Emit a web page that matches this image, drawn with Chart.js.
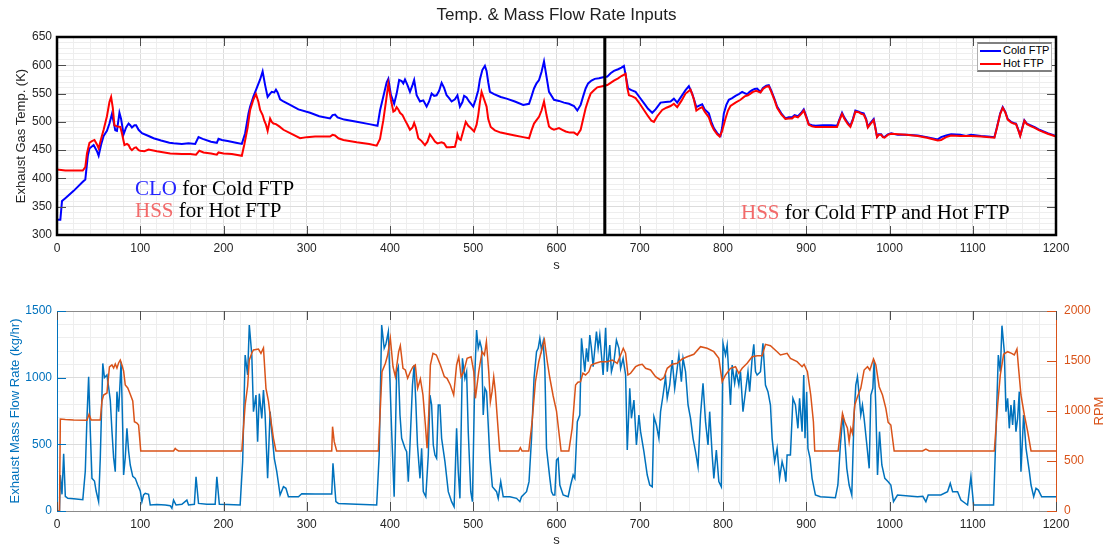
<!DOCTYPE html>
<html><head><meta charset="utf-8">
<script src="https://cdn.jsdelivr.net/npm/chart.js@4.4.0/dist/chart.umd.min.js"></script>
<style>
html,body{margin:0;padding:0;background:#fff;}
body{width:1107px;height:546px;position:relative;overflow:hidden;font-family:"Liberation Sans",Arial,sans-serif;}
canvas{position:absolute;left:0;}
#c1{top:0;}
#c2{top:285px;}
.t{position:absolute;white-space:nowrap;}
#title{left:0;width:1113px;top:5px;line-height:20px;font-size:17px;text-align:center;color:#222;}
.ann{font-family:"Liberation Serif","Times New Roman",serif;font-size:21px;line-height:21px;color:#000;}
.clo{color:#2424ff;}
.hss{color:#f26a6a;}
#legbox{position:absolute;left:977px;top:42px;width:73px;height:26px;border:1px solid #b0b0b0;border-top:2px solid #808080;border-bottom:2px solid #808080;background:#fff;}
.legline{position:absolute;left:980px;width:21px;height:2px;}
.legtxt{font-size:11px;line-height:13px;color:#000;left:1003px;}
#rpm{left:1079px;top:403px;width:40px;line-height:16px;font-size:13px;text-align:center;color:#D95319;transform:rotate(-90deg);}
</style></head><body>
<canvas id="c1" width="1107" height="280"></canvas>
<canvas id="c2" width="1107" height="265"></canvas>
<div id="title" class="t">Temp. &amp; Mass Flow Rate Inputs</div>
<div class="t ann" style="left:135px;top:178px;"><span class="clo">CLO</span> for Cold FTP</div>
<div class="t ann" style="left:135px;top:200px;"><span class="hss">HSS</span> for Hot FTP</div>
<div class="t ann" style="left:741px;top:202px;"><span class="hss">HSS</span> for Cold FTP and Hot FTP</div>
<div id="legbox"></div>
<div class="legline" style="top:50px;background:#0000ff;"></div>
<div class="t legtxt" style="top:44px;">Cold FTP</div>
<div class="legline" style="top:63px;background:#ff0000;"></div>
<div class="t legtxt" style="top:57px;">Hot FTP</div>
<div id="rpm" class="t">RPM</div>
<script>
// ---------- DATA ----------
const seriesNames = ['Cold FTP', 'Hot FTP', 'Exhaust Mass Flow Rate (kg/hr)', 'RPM'];
const separatorTime = 658; // s, switch point between strategies

const coldTime = [0,4,6,10,20,31,34,37,39,44,48,50,53,56,60,63,66,68,70,72,75,77,80,83,86,88,90,93,95,98,102,110,116,125,135,140,150,158,166,170,175,185,192,194,198,205,215,222,226,230,232,236,240,244,247,250,253,256,258,261,263,265,268,272,280,290,304,315,328,331,334,337,345,360,375,385,388,392,396,398,401,405,408,411,414,416,418,421,424,427,429,432,436,440,444,447,450,453,456,459,462,465,468,471,474,478,481,484,487,489,492,495,500,503,506,508,511,514,516,518,520,525,533,540,550,560,567,570,573,576,579,582,585,588,591,597,603,609,615,621,625,629,632,635,638,642,646,651,656,661,665,669,674,678,681,684,686,690,695,700,705,710,715,719,725,731,737,741,745,750,755,759,763,768,772,775,778,783,786,789,793,797,799,801,804,807,811,815,819,823,827,829,832,835,838,841,845,848,852,855,858,862,865,870,875,879,883,886,890,894,897,900,903,907,911,920,930,937,940,943,946,950,953,956,959,963,966,969,972,974,977,981,983,985,987,990,992,994,998,1002,1010,1020,1034,1045,1058,1062,1068,1074,1085,1092,1098,1110,1118,1126,1129,1133,1136,1139,1142,1146,1149,1152,1155,1157,1160,1162,1165,1169,1175,1180,1190,1200];
const coldTemp = [327,327,360,365,378,394,398,440,453,459,448,440,460,475,484,497,514,500,485,484,516,505,478,490,497,494,490,494,494,486,480,475,471,467,463,462,461,462,461,473,470,465,463,470,468,466,463,461,480,515,527,545,560,575,589,565,544,550,553,552,557,552,540,536,530,522,516,510,506,512,513,508,504,500,496,493,520,545,570,576,548,532,550,574,572,568,575,565,553,565,574,547,536,538,527,536,550,546,547,555,569,560,547,542,536,540,547,527,535,546,543,536,527,540,556,575,592,599,590,570,553,549,544,541,536,530,532,545,559,568,574,588,607,580,553,539,537,534,532,528,520,530,545,559,568,573,576,577,579,580,586,590,593,596,599,575,559,556,553,543,533,523,516,522,534,535,536,541,534,545,556,563,550,526,529,531,522,515,500,489,480,475,490,515,530,539,542,546,549,553,550,549,553,556,558,559,553,560,564,565,555,540,527,515,506,508,508,512,510,516,522,510,496,494,493,494,494,493,505,516,507,498,493,505,520,518,516,515,505,491,498,505,490,474,478,478,474,473,478,480,477,477,476,473,469,473,476,478,477,475,477,475,474,473,490,515,526,518,505,500,498,497,485,476,492,503,497,494,490,486,480,475];

const hotTime = [0,5,10,20,31,34,36,39,42,45,48,50,53,56,60,63,65,67,69,72,76,78,81,84,86,88,90,93,95,98,100,105,110,120,136,150,160,167,171,176,185,192,194,200,210,222,225,229,232,236,239,242,244,247,249,251,253,256,258,260,263,267,272,280,292,300,310,328,331,334,338,344,360,375,384,388,392,396,398,401,404,406,408,410,412,415,418,421,424,427,429,431,434,438,442,445,448,451,454,457,462,465,468,472,478,480,481,483,485,488,491,494,497,501,504,506,508,510,513,516,518,521,526,533,540,550,560,567,570,573,576,579,582,585,588,591,594,597,603,607,611,616,621,625,629,632,635,638,641,645,649,655,661,665,669,674,678,683,685,687,691,695,700,705,710,714,717,721,727,732,737,741,745,750,755,761,765,768,772,775,778,783,786,789,793,796,799,803,806,809,815,821,826,830,833,836,840,845,848,852,855,858,862,865,870,875,879,883,886,890,894,897,900,903,907,911,937,940,943,946,950,953,956,959,963,966,969,972,974,977,981,983,985,987,990,992,994,998,1002,1020,1034,1045,1058,1062,1068,1074,1085,1098,1110,1126,1129,1133,1136,1139,1142,1146,1149,1152,1155,1157,1160,1162,1165,1169,1175,1180,1190,1200];
const hotTemp = [416,415,414,414,414,420,444,463,466,468,460,453,470,486,510,535,544,525,494,492,491,480,459,461,459,453,450,454,455,450,449,448,451,448,444,443,443,442,449,446,444,442,446,444,443,440,460,490,521,540,549,535,521,512,502,495,484,506,500,497,496,492,486,480,471,473,474,474,477,476,471,468,464,461,458,470,503,545,567,540,518,520,526,522,516,512,503,495,486,490,498,490,471,466,459,465,478,472,465,462,464,462,455,455,456,468,478,470,468,484,500,493,489,483,495,512,535,553,540,527,505,491,485,481,479,476,473,471,485,497,503,509,520,536,512,492,488,486,489,486,483,481,481,477,486,505,524,538,550,556,561,563,565,569,573,577,581,585,560,547,545,542,532,521,510,502,500,510,521,525,528,532,526,537,550,557,540,520,524,526,518,508,495,486,478,474,484,506,520,528,534,539,545,547,550,553,555,552,558,562,563,553,538,525,513,505,506,506,510,508,514,520,508,495,492,491,491,503,514,505,496,491,503,518,517,514,513,503,490,496,503,489,473,477,477,473,472,477,479,477,475,472,467,468,473,476,475,475,474,472,489,514,525,517,504,499,497,496,484,475,491,502,496,493,489,485,479,474];

const flowTime = [0,3,4,6,8,10,13,20,31,34,36,38,40,42,45,47,50,52,55,57,60,62,64,66,68,70,72,74,77,79,80,82,84,86,88,91,94,97,100,102,104,106,110,112,120,130,136,138,140,143,150,156,158,165,167,170,180,190,192,195,205,220,223,226,229,231,234,236,239,241,243,246,248,250,253,256,258,261,264,268,272,275,278,290,294,310,330,331.5,335,338,360,384,387,390,393,395,398,400,402,405,408,410,412,414,418,420,422,424,427,429,431,433,436,438,440,443,446,448,450,452,454,456,458,460,462,466,470,474,477,480,482,484,487,490,492,494,497,499,502,504,506,508,510,512,514,516,518,520,523,528,530,533,536,544,552,556,558,564,567,570,573,576,578,580,582,584,586,588,592,594,596,598,600,602,604,608,614,617,620,622,625,628,630,632,634,636,638,640,642,644,648,650,652,654,656,659,661,664,666,669,672,675,677,680,683,685,688,690,693,696,699,701,705,709,712,715,717,720,723,725,728,731,733,736,739,742,744,747,750,752,755,758,761,764,767,770,773,776,779,782,784,787,789,792,795,798,800,803,805,807,809,811,814,816,819,821,824,827,830,832,835,837,839,841,845,848,851,854,857,859,862,865,868,871,874,875.5,877,881,884,887,890,892,895,897,898.5,900.5,902,904.6,907,911,917,935,938,941,944,946,948.7,951.5,954.7,957.5,959.5,961.5,963.5,965.5,967.5,969.5,972.8,975.6,977.6,980,981.6,983.6,985.6,988,990.8,994.4,998.4,1001.6,1004.8,1009.6,1033.7,1040,1043.7,1046.5,1061.7,1069.7,1073,1075.8,1081.8,1085.8,1093.8,1097.8,1101,1125,1127.9,1130.7,1133.1,1135.1,1137.9,1139.9,1141.9,1143.9,1145.9,1147.9,1149.9,1151.9,1153.9,1155.9,1157.9,1161.1,1164,1168,1170,1173.2,1176,1178.8,1182.8,1200];
const flowRate = [0,0,270,125,430,110,95,92,85,300,700,1007,600,245,225,150,70,400,1107,1000,1020,930,830,600,400,295,895,745,1120,600,270,400,620,450,345,260,245,195,150,70,120,132,125,45,48,45,40,20,82,45,50,82,45,50,257,57,50,50,257,50,48,45,370,1170,1020,1395,1170,745,870,520,880,695,907,720,245,745,595,395,295,120,182,170,107,107,130,127,127,357,70,57,50,45,420,1395,1220,1250,1345,970,595,107,1045,1082,720,545,470,445,220,495,945,1095,820,495,245,470,145,107,420,870,795,495,420,395,795,795,545,370,145,70,32,620,295,95,1145,995,1045,595,145,70,1045,1357,1220,1270,1220,720,920,895,645,395,182,145,95,220,107,107,95,70,107,145,220,545,995,1195,1220,1295,1207,1270,1070,470,245,145,120,120,382,395,195,120,107,195,270,245,670,720,1295,1170,1045,1220,1120,1320,1220,1082,1345,1220,1320,1170,1020,1375,1045,1245,1045,1120,1282,1220,1070,1145,1020,457,920,695,832,495,720,595,445,270,195,182,707,645,545,745,870,1007,845,945,1132,920,1020,1170,970,1145,1045,795,695,545,445,332,720,957,670,495,745,420,245,457,220,182,1257,1170,1245,1020,795,1095,957,1045,945,1045,745,895,1045,895,1145,1250,1045,1020,1045,1257,945,895,795,545,370,470,245,370,295,220,420,420,845,795,620,845,595,1020,545,895,470,395,245,120,107,100,195,495,720,570,320,195,120,720,945,1007,870,720,795,695,495,320,870,920,1132,770,270,595,345,245,220,195,70,120,107,110,70,120,120,145,207,145,145,82,45,257,45,45,595,1170,1045,1390,1195,745,845,620,795,645,832,595,695,895,295,720,470,295,195,107,170,157,107,107];

const rpmTime = [0,3,4,10,20,36,38.5,41,52,54,56,60,63,66,68,70,72,74,76,78,80,82,85,88,91,93,96,98,100.6,140,142,144,146,222,226,229,231,234,236,239,242,245,248,251,254,256,260,263,330,331,333,336,386,390.4,394.5,397.2,400.4,403.6,406.4,410.4,412.4,415.6,418.4,421.2,424.4,427.6,430.4,433.2,436.5,439.6,442.5,444.5,446.5,448.5,451.6,455.7,460.5,465.3,468.5,472.5,476.5,480,482.6,485.4,488.6,492.6,497.4,500.6,502.6,506.6,510.6,513.4,515.8,518.6,520.6,522.6,524.6,526.6,528.6,531.8,554.6,556.6,558.6,566.7,570.7,574.7,578.7,582.7,585.5,588.8,592,596,600,603,605.5,614.8,618.8,622.9,625.7,628.9,631.7,634.9,638.9,641.7,646.9,652.9,661,667,673,677,680.2,683,685.8,689,695,699,703,707,713,719,725,729,733,739,745,751,757,765,773,781,789,795,799,803,809,815,819,823,829,835,841,847,851,857,865,869,877,881,889,895,897.4,901.4,905.4,908.6,910.2,938.3,943.5,946.3,949.5,951.5,953.5,955.5,958.3,961.5,965.5,969.5,973.6,976.4,978.4,980.8,983.6,987.6,991.6,995.6,998.4,1001.6,1005.6,1039.7,1043.7,1047.7,1125.9,1129.9,1133.1,1137.1,1141.9,1146.7,1149.9,1153.1,1154.7,1157.9,1162,1166,1170,1200];
const rpmValue = [0,0,920,915,910,908,967,910,910,1100,1160,1180,1440,1460,1430,1470,1430,1480,1510,1460,1400,1260,1230,1167,1100,893,880,860,600,600,625,610,600,600,1060,1250,1510,1580,1610,1615,1620,1577,1630,1227,1100,960,727,600,600,843,693,600,600,1393,1477,1560,1727,1443,1343,1593,1653,1427,1410,1327,1393,1443,1460,1227,1320,1160,860,627,960,1460,1577,1560,1460,1343,1327,1260,1160,1460,1543,1343,1393,1527,1543,1393,1127,1393,1593,1560,1693,1393,1093,1193,1343,1193,960,600,600,633,600,600,893,1293,1493,1627,1710,1500,1330,1150,1000,780,600,600,827,1260,1287,1293,1377,1360,1393,1460,1477,1493,1493,1510,1477,1560,1627,1577,1360,1377,1443,1460,1467,1427,1410,1343,1310,1333,1427,1467,1477,1520,1543,1567,1643,1627,1593,1527,1293,1360,1427,1443,1377,1427,1477,1543,1553,1553,1667,1653,1593,1560,1577,1527,1493,1443,1467,1393,1160,893,600,600,977,893,827,693,827,777,1060,1143,1227,1410,1443,1410,1460,1520,1460,1243,1160,1027,887,860,600,600,620,600,600,1060,1360,1567,1593,1577,1560,1620,1460,1160,960,793,600,600];

const xTickLabels = ['0','100','200','300','400','500','600','700','800','900','1000','1100','1200'];
const tempTickLabels = ['300','350','400','450','500','550','600','650'];
const flowTickLabels = ['0','500','1000','1500'];
const rpmTickLabels = ['0','500','1000','1500','2000'];

// ---------- helpers ----------
const pts = (xs, ys) => xs.map((x, i) => ({x: x, y: ys[i]}));
const FONT = "'Liberation Sans', Arial, sans-serif";
Chart.defaults.font.family = FONT;
const GRID_MAJOR = '#dcdcdc';
const GRID_MINOR = '#eeeeee';
const TXT = '#262626';
const BLUE_AX = '#0072BD';
const ORANGE_AX = '#D95319';
const isLabel = (v, list) => list.indexOf(String(Math.round(v))) >= 0;

function xScale(height, titlePadBottom) {
  return {
    type: 'linear', min: 0, max: 1200,
    ticks: {stepSize: 20, autoSkip: false, maxRotation: 0, padding: 6, color: TXT, font: {size: 12},
      callback: v => isLabel(v, xTickLabels) ? String(v) : ''},
    grid: {drawTicks: false, color: c => (c.tick && isLabel(c.tick.value, xTickLabels)) ? GRID_MAJOR : GRID_MINOR},
    border: {display: false},
    title: {display: true, text: 's', color: TXT, font: {size: 13}, padding: {top: 0, bottom: titlePadBottom}},
    afterFit: s => { s.height = height; }
  };
}

// inner tick marks + frames
const frameTop = {
  id: 'frameTop',
  afterDatasetsDraw(chart) {
    const {ctx, chartArea: a, scales} = chart;
    ctx.save();
    ctx.strokeStyle = '#4d4d4d'; ctx.lineWidth = 1;
    const L = 9;
    xTickLabels.forEach(t => {
      const p = Math.round(scales.x.getPixelForValue(+t)) + 0.5;
      ctx.beginPath(); ctx.moveTo(p, a.bottom); ctx.lineTo(p, a.bottom - L);
      ctx.moveTo(p, a.top); ctx.lineTo(p, a.top + L); ctx.stroke();
    });
    tempTickLabels.forEach(t => {
      const p = Math.round(scales.y.getPixelForValue(+t)) + 0.5;
      ctx.beginPath(); ctx.moveTo(a.left, p); ctx.lineTo(a.left + L, p);
      ctx.moveTo(a.right, p); ctx.lineTo(a.right - L, p); ctx.stroke();
    });
    ctx.strokeStyle = '#000'; ctx.lineWidth = 2.5;
    ctx.strokeRect(a.left, a.top, a.right - a.left, a.bottom - a.top);
    ctx.restore();
  }
};
const frameBottom = {
  id: 'frameBottom',
  afterDatasetsDraw(chart) {
    const {ctx, chartArea: a, scales} = chart;
    ctx.save();
    const L = 9;
    ctx.lineWidth = 1;
    ctx.strokeStyle = '#8a8a8a';
    ctx.beginPath(); ctx.moveTo(a.left, a.top + 0.5); ctx.lineTo(a.right, a.top + 0.5); ctx.stroke();
    ctx.strokeStyle = '#4d4d4d';
    xTickLabels.forEach(t => {
      const p = Math.round(scales.x.getPixelForValue(+t)) + 0.5;
      ctx.beginPath(); ctx.moveTo(p, a.bottom); ctx.lineTo(p, a.bottom - L);
      ctx.moveTo(p, a.top); ctx.lineTo(p, a.top + L); ctx.stroke();
    });
    ctx.strokeStyle = BLUE_AX;
    flowTickLabels.forEach(t => {
      const p = Math.round(scales.y.getPixelForValue(+t)) + 0.5;
      ctx.beginPath(); ctx.moveTo(a.left, p); ctx.lineTo(a.left + L, p); ctx.stroke();
    });
    ctx.strokeStyle = ORANGE_AX;
    rpmTickLabels.forEach(t => {
      const p = Math.round(scales.y1.getPixelForValue(+t)) + 0.5;
      ctx.beginPath(); ctx.moveTo(a.right, p); ctx.lineTo(a.right - L, p); ctx.stroke();
    });
    ctx.restore();
  }
};

// ---------- top chart ----------
new Chart(document.getElementById('c1'), {
  type: 'line',
  data: {datasets: [
    {label: 'switch', data: pts([separatorTime, separatorTime], [300, 650]), borderColor: '#000', borderWidth: 3, pointRadius: 0, order: 0},
    {label: seriesNames[1], data: pts(hotTime, hotTemp), borderColor: '#ff0000', borderWidth: 2, pointRadius: 0, order: 1},
    {label: seriesNames[0], data: pts(coldTime, coldTemp), borderColor: '#0000ff', borderWidth: 2, pointRadius: 0, order: 2}
  ]},
  options: {
    responsive: false, animation: false, events: [],
    layout: {padding: {top: 37, right: 51, left: 0, bottom: 0}},
    plugins: {legend: {display: false}, tooltip: {enabled: false}, title: {display: false}},
    scales: {
      x: xScale(45, 7),
      y: {
        min: 300, max: 650,
        ticks: {stepSize: 10, autoSkip: false, padding: 5, color: TXT, font: {size: 12},
          callback: v => isLabel(v, tempTickLabels) ? String(v) : ''},
        grid: {drawTicks: false, color: c => (c.tick && isLabel(c.tick.value, tempTickLabels)) ? GRID_MAJOR : GRID_MINOR},
        border: {display: false},
        title: {display: true, text: 'Exhaust Gas Temp. (K)', color: TXT, font: {size: 13}, padding: {top: 14, bottom: 0}},
        afterFit: s => { s.width = 57; }
      }
    }
  },
  plugins: [frameTop]
});

// ---------- bottom chart ----------
new Chart(document.getElementById('c2'), {
  type: 'line',
  data: {datasets: [
    {label: seriesNames[3], data: pts(rpmTime, rpmValue), yAxisID: 'y1', borderColor: ORANGE_AX, borderWidth: 1.5, pointRadius: 0, order: 1},
    {label: seriesNames[2], data: pts(flowTime, flowRate), yAxisID: 'y', borderColor: BLUE_AX, borderWidth: 1.5, pointRadius: 0, order: 2}
  ]},
  options: {
    responsive: false, animation: false, events: [],
    layout: {padding: {top: 26, right: 0, left: 0, bottom: 0}},
    plugins: {legend: {display: false}, tooltip: {enabled: false}},
    scales: {
      x: Object.assign(xScale(39, 2), {border: {display: true, color: '#8a8a8a', width: 1}}),
      y: {
        position: 'left', min: 0, max: 1500,
        ticks: {stepSize: 100, autoSkip: false, padding: 5, color: BLUE_AX, font: {size: 12},
          callback: v => isLabel(v, flowTickLabels) ? String(v) : ''},
        grid: {drawTicks: false, color: c => (c.tick && isLabel(c.tick.value, flowTickLabels)) ? GRID_MAJOR : GRID_MINOR},
        border: {display: true, color: BLUE_AX, width: 1},
        title: {display: true, text: seriesNames[2], color: BLUE_AX, font: {size: 13}, padding: {top: 8, bottom: 0}},
        afterFit: s => { s.width = 57; }
      },
      y1: {
        position: 'right', min: 0, max: 2000,
        ticks: {stepSize: 500, autoSkip: false, padding: 8, color: ORANGE_AX, font: {size: 12},
          callback: v => isLabel(v, rpmTickLabels) ? String(v) : ''},
        grid: {drawTicks: false, drawOnChartArea: false},
        border: {display: true, color: ORANGE_AX, width: 1},
        afterFit: s => { s.width = 51; }
      }
    }
  },
  plugins: [frameBottom]
});
</script>
</body></html>
